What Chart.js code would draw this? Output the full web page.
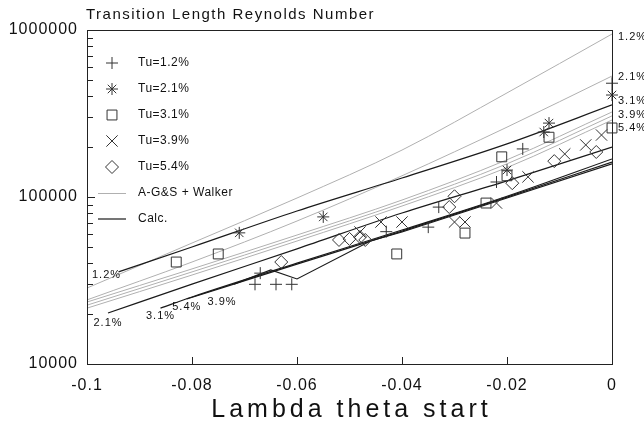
<!DOCTYPE html>
<html>
<head>
<meta charset="utf-8">
<script src="https://cdn.jsdelivr.net/npm/chart.js@4.4.1/dist/chart.umd.min.js"></script>
<style>
  html, body { margin: 0; padding: 0; background: #fff; }
</style>
</head>
<body>
<canvas id="grafico" width="644" height="426"></canvas>
<script>
// Valores de Tu para as curvas
const tuLabels = ['1.2%', '2.1%', '3.1%', '3.9%', '5.4%'];

// Pontos medidos (x = lambda theta start, y = Re do comprimento de transicao)
const tu12X = [-0.068, -0.067, -0.064, -0.061, -0.043, -0.035, -0.033, -0.022, -0.017, 0];
const tu12Y = [30000, 35000, 30000, 30000, 62000, 66000, 87000, 123000, 194000, 480000];
const tu21X = [-0.071, -0.055, -0.020, -0.013, -0.012, 0];
const tu21Y = [61000, 76000, 145000, 245000, 277000, 408000];
const tu31X = [-0.083, -0.075, -0.041, -0.028, -0.024, -0.021, -0.020, -0.012, 0];
const tu31Y = [40800, 45600, 45600, 60800, 92000, 174000, 134000, 228000, 259000];
const tu39X = [-0.048, -0.044, -0.040, -0.030, -0.028, -0.022, -0.016, -0.009, -0.005, -0.002];
const tu39Y = [61700, 70800, 70800, 70800, 70800, 92000, 132000, 181000, 205000, 235000];
const tu54X = [-0.063, -0.052, -0.050, -0.048, -0.047, -0.031, -0.030, -0.019, -0.011, -0.003];
const tu54Y = [40800, 55300, 56100, 57600, 55300, 87100, 101000, 121000, 164000, 186000];

// Curvas A-G&S + Walker (cinza)
const agsX = [-0.1, -0.08, -0.06, -0.04, -0.02, 0];
const ags12 = [28500, 53000, 98600, 191000, 420000, 946000];
const ags21 = [24200, 40800, 71800, 134000, 262000, 530000];
const ags31 = [23500, 37100, 59200, 95900, 167000, 323000];
const ags39 = [22500, 35600, 56800, 92000, 158000, 306000];
const ags54 = [21600, 34100, 54500, 88300, 150000, 289000];

// Curvas calculadas (preto)
const calc12X = [-0.094, -0.08, -0.06, -0.04, -0.02, 0];
const calc12 = [35600, 50200, 82500, 130000, 208000, 356000];
const calc21X = [-0.096, -0.08, -0.06, -0.04, -0.02, 0];
const calc21 = [20200, 30100, 48900, 80200, 125000, 199000];
const calc31X = [-0.086, -0.08, -0.06, -0.04, -0.02, 0];
const calc31 = [21600, 25200, 40200, 63400, 101000, 169000];
const calc39X = [-0.072, -0.065, -0.06, -0.046, -0.04, -0.02, 0];
const calc39 = [30100, 36600, 32300, 54500, 61700, 98600, 158000];
const calc54X = [-0.081, -0.06, -0.04, -0.02, 0];
const calc54 = [24500, 39600, 62500, 99800, 162000];

// Ticks do eixo y
const yTicks = [10000, 100000, 1000000];

const pts = (xs, ys) => xs.map((x, i) => ({ x: x, y: ys[i] }));

const FONTE = '"Liberation Sans", Arial, sans-serif';
const CINZA = '#b0b0b0';
const PRETO = '#1a1a1a';
const MARCA = '#333333';

// tamanhos das marcas
const raios = { cross: 6, star: 6, rect: 7, crossRot: 8, rectRot: 6.5 };

function linhaCinza(data) {
    return { type: 'line', data: data, borderColor: CINZA, borderWidth: 1, pointRadius: 0,
             cubicInterpolationMode: 'monotone', fill: false, order: 3 };
}
function linhaPreta(data, reta) {
    return { type: 'line', data: data, borderColor: PRETO, borderWidth: 1.2, pointRadius: 0,
             tension: 0, cubicInterpolationMode: reta ? 'default' : 'monotone', fill: false, order: 2 };
}
function pontos(data, estilo) {
    return { type: 'scatter', data: data, pointStyle: estilo, pointRadius: raios[estilo],
             pointBorderColor: MARCA, pointBackgroundColor: 'rgba(0,0,0,0)', pointBorderWidth: 1,
             showLine: false, clip: false, order: 1 };
}

const agsCurvas = [ags12, ags21, ags31, ags39, ags54];
const calcCurvas = [pts(calc12X, calc12), pts(calc21X, calc21), pts(calc31X, calc31),
                    pts(calc39X, calc39), pts(calc54X, calc54)];

// desenha uma marca do mesmo jeito que o Chart.js
function marca(ctx, estilo, cx, cy) {
    const r = raios[estilo];
    const d = r * Math.SQRT1_2;
    ctx.beginPath();
    if (estilo === 'cross' || estilo === 'star') {
        ctx.moveTo(cx - r, cy); ctx.lineTo(cx + r, cy);
        ctx.moveTo(cx, cy - r); ctx.lineTo(cx, cy + r);
    }
    if (estilo === 'crossRot' || estilo === 'star') {
        ctx.moveTo(cx - d, cy - d); ctx.lineTo(cx + d, cy + d);
        ctx.moveTo(cx - d, cy + d); ctx.lineTo(cx + d, cy - d);
    }
    if (estilo === 'rect') ctx.rect(cx - d, cy - d, 2 * d, 2 * d);
    if (estilo === 'rectRot') {
        ctx.moveTo(cx, cy - r); ctx.lineTo(cx + r, cy); ctx.lineTo(cx, cy + r);
        ctx.lineTo(cx - r, cy); ctx.closePath();
    }
    ctx.stroke();
}

// textos, legenda, moldura e ticks internos
const decoracao = {
    id: 'decoracao',
    beforeDraw(chart) {
        chart.ctx.letterSpacing = '1px';
    },
    afterDraw(chart) {
        const { ctx, chartArea: a, scales: { x, y } } = chart;
        ctx.save();
        ctx.strokeStyle = '#222';
        ctx.lineWidth = 1;
        ctx.strokeRect(a.left + 0.5, a.top + 0.5, a.right - a.left, a.bottom - a.top);

        // ticks menores do eixo log, para dentro
        ctx.beginPath();
        for (let dec = 10000; dec < 1000000; dec *= 10) {
            for (let m = 1; m < 10; m++) {
                const py = Math.round(y.getPixelForValue(dec * m)) + 0.5;
                ctx.moveTo(a.left, py);
                ctx.lineTo(a.left + (m === 1 ? 8 : 6), py);
            }
        }
        x.ticks.forEach(t => {
            const px = Math.round(x.getPixelForValue(t.value)) + 0.5;
            ctx.moveTo(px, a.bottom);
            ctx.lineTo(px, a.bottom - 7);
        });
        ctx.stroke();

        ctx.fillStyle = '#111';
        // titulo
        ctx.letterSpacing = '1.5px';
        ctx.font = '15px ' + FONTE;
        ctx.textAlign = 'left';
        ctx.textBaseline = 'alphabetic';
        ctx.fillText('Transition Length Reynolds Number', a.left - 1, 19);

        // titulo do eixo x
        ctx.letterSpacing = '4px';
        ctx.font = '25px ' + FONTE;
        ctx.textAlign = 'center';
        ctx.textBaseline = 'middle';
        ctx.fillText('Lambda theta start', (a.left + a.right) / 2 + 2, 410);

        // rotulos das curvas cinza na direita
        ctx.letterSpacing = '1px';
        ctx.font = '11px ' + FONTE;
        ctx.textAlign = 'left';
        const dyDir = [3, 1, -11, -1, 8];
        agsCurvas.forEach((c, i) => {
            const py = y.getPixelForValue(c[c.length - 1]);
            ctx.fillText(tuLabels[i], a.right + 6, py + dyDir[i]);
        });

        // rotulos das curvas calculadas na esquerda
        const offEsq = [[-12, 3], [0, 10], [0, 8], [-12, 18], [0, 8]];
        calcCurvas.forEach((c, i) => {
            const px = x.getPixelForValue(c[0].x);
            const py = y.getPixelForValue(c[0].y);
            ctx.textAlign = 'center';
            ctx.fillText(tuLabels[i], px + offEsq[i][0], py + offEsq[i][1]);
        });

        // legenda
        const estilos = ['cross', 'star', 'rect', 'crossRot', 'rectRot'];
        const lx = 112, tx = 138, y0 = 63, passo = 26;
        ctx.font = '12px ' + FONTE;
        ctx.letterSpacing = '0.5px';
        ctx.textAlign = 'left';
        estilos.forEach((e, i) => {
            ctx.strokeStyle = MARCA;
            marca(ctx, e, lx, y0 + i * passo);
            ctx.fillText('Tu=' + tuLabels[i], tx, y0 + i * passo);
        });
        ctx.lineWidth = 1;
        ctx.strokeStyle = CINZA;
        ctx.beginPath();
        ctx.moveTo(98, y0 + 5 * passo + 0.5); ctx.lineTo(126, y0 + 5 * passo + 0.5);
        ctx.stroke();
        ctx.fillText('A-G&S + Walker', tx, y0 + 5 * passo);
        ctx.strokeStyle = PRETO;
        ctx.lineWidth = 1.2;
        ctx.beginPath();
        ctx.moveTo(98, y0 + 6 * passo); ctx.lineTo(126, y0 + 6 * passo);
        ctx.stroke();
        ctx.fillText('Calc.', tx, y0 + 6 * passo);
        ctx.restore();
    }
};

const ctx = document.getElementById('grafico').getContext('2d');
const grafico = new Chart(ctx, {
    data: {
        datasets: [
            pontos(pts(tu12X, tu12Y), 'cross'),
            pontos(pts(tu21X, tu21Y), 'star'),
            pontos(pts(tu31X, tu31Y), 'rect'),
            pontos(pts(tu39X, tu39Y), 'crossRot'),
            pontos(pts(tu54X, tu54Y), 'rectRot'),
            ...agsCurvas.map(c => linhaCinza(pts(agsX, c))),
            linhaPreta(calcCurvas[0]),
            linhaPreta(calcCurvas[1]),
            linhaPreta(calcCurvas[2]),
            linhaPreta(calcCurvas[3], true),
            linhaPreta(calcCurvas[4])
        ]
    },
    options: {
        responsive: false,
        animation: false,
        layout: { padding: { top: 30, right: 32, left: 0, bottom: 0 } },
        plugins: { legend: { display: false }, tooltip: { enabled: false } },
        scales: {
            x: {
                type: 'linear',
                min: -0.1,
                max: 0,
                ticks: { stepSize: 0.02, color: '#111', font: { family: FONTE, size: 16 }, padding: 12, maxRotation: 0,
                         callback: v => String(Number(v.toFixed(2))) },
                grid: { drawOnChartArea: false, drawTicks: false },
                border: { color: '#222' },
                afterFit: s => { s.height = 62; }
            },
            y: {
                type: 'logarithmic',
                min: 10000,
                max: 1000000,
                afterBuildTicks: s => { s.ticks = yTicks.map(v => ({ value: v })); },
                ticks: { color: '#111', font: { family: FONTE, size: 16 }, padding: 9,
                         callback: v => String(v) },
                grid: { drawOnChartArea: false, drawTicks: false },
                border: { color: '#222' },
                afterFit: s => { s.width = 87; }
            }
        }
    },
    plugins: [decoracao]
});
</script>
</body>
</html>
